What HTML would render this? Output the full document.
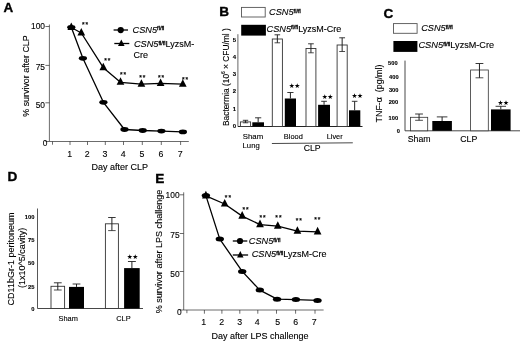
<!DOCTYPE html>
<html lang="en">
<head>
<meta charset="utf-8">
<title>Figure</title>
<style>
html,body{margin:0;padding:0;background:#fff;}
body{width:520px;height:344px;overflow:hidden;font-family:"Liberation Sans", sans-serif;}
svg{display:block;font-family:"Liberation Sans", sans-serif;filter:blur(0.45px);}
svg text{fill:#000;stroke:#000;stroke-width:0.12px;}
</style>
</head>
<body>
<svg width="520" height="344" viewBox="0 0 520 344">
<rect x="0" y="0" width="520" height="344" fill="#fff"/>
<text x="3.5" y="12.4" font-size="13.4" text-anchor="start" font-weight="bold" font-style="normal" style="stroke-width:0.35px">A</text>
<line x1="49.4" y1="24.5" x2="49.4" y2="141.5" stroke="#262626" stroke-width="0.68" />
<line x1="49.4" y1="141.5" x2="188.8" y2="141.5" stroke="#262626" stroke-width="0.68" />
<line x1="45.4" y1="26.5" x2="49.4" y2="26.5" stroke="#262626" stroke-width="0.68" />
<text x="45.0" y="28.6" font-size="8.4" text-anchor="end" font-weight="normal" font-style="normal" >100</text>
<line x1="45.4" y1="65.4" x2="49.4" y2="65.4" stroke="#262626" stroke-width="0.68" />
<text x="45.0" y="69.8" font-size="8.4" text-anchor="end" font-weight="normal" font-style="normal" >75</text>
<line x1="45.4" y1="102.8" x2="49.4" y2="102.8" stroke="#262626" stroke-width="0.68" />
<text x="45.0" y="108.1" font-size="8.4" text-anchor="end" font-weight="normal" font-style="normal" >50</text>
<line x1="45.4" y1="141.5" x2="49.4" y2="141.5" stroke="#262626" stroke-width="0.68" />
<text x="47.4" y="146.2" font-size="8.4" text-anchor="end" font-weight="normal" font-style="normal" >0</text>
<line x1="52.5" y1="141.5" x2="52.5" y2="144.7" stroke="#262626" stroke-width="0.68" />
<line x1="70" y1="141.5" x2="70" y2="145.0" stroke="#262626" stroke-width="0.68" />
<text x="69.7" y="156.6" font-size="8.8" text-anchor="middle" font-weight="normal" font-style="normal" >1</text>
<line x1="87.5" y1="141.5" x2="87.5" y2="145.0" stroke="#262626" stroke-width="0.68" />
<text x="87.2" y="156.6" font-size="8.8" text-anchor="middle" font-weight="normal" font-style="normal" >2</text>
<line x1="105.3" y1="141.5" x2="105.3" y2="145.0" stroke="#262626" stroke-width="0.68" />
<text x="105.0" y="156.6" font-size="8.8" text-anchor="middle" font-weight="normal" font-style="normal" >3</text>
<line x1="123.5" y1="141.5" x2="123.5" y2="145.0" stroke="#262626" stroke-width="0.68" />
<text x="123.2" y="156.6" font-size="8.8" text-anchor="middle" font-weight="normal" font-style="normal" >4</text>
<line x1="142.3" y1="141.5" x2="142.3" y2="145.0" stroke="#262626" stroke-width="0.68" />
<text x="142.0" y="156.6" font-size="8.8" text-anchor="middle" font-weight="normal" font-style="normal" >5</text>
<line x1="161.3" y1="141.5" x2="161.3" y2="145.0" stroke="#262626" stroke-width="0.68" />
<text x="161.0" y="156.6" font-size="8.8" text-anchor="middle" font-weight="normal" font-style="normal" >6</text>
<line x1="180.6" y1="141.5" x2="180.6" y2="145.0" stroke="#262626" stroke-width="0.68" />
<text x="180.29999999999998" y="156.6" font-size="8.8" text-anchor="middle" font-weight="normal" font-style="normal" >7</text>
<text x="28.6" y="76" font-size="8.9" text-anchor="middle" font-weight="normal" font-style="normal" transform="rotate(-90 28.6 76)" >% survivor after CLP</text>
<text x="119.7" y="170.3" font-size="9" text-anchor="middle" font-weight="normal" font-style="normal" >Day after CLP</text>
<polyline points="71.3,27.3 82.9,58.3 103.4,102.3 124.5,129.5 142.7,130.5 161.4,131.1 182.9,131.9" fill="none" stroke="#000" stroke-width="1.3" stroke-linejoin="round"/>
<polyline points="71.3,27.5 81.3,33.0 103.3,67.7 120.5,82.3 141.4,84.2 160.6,83.4 182.8,84.2" fill="none" stroke="#000" stroke-width="1.3" stroke-linejoin="round"/>
<ellipse cx="71.3" cy="27.3" rx="4.1" ry="2.4" fill="#000"/>
<ellipse cx="82.9" cy="58.3" rx="4.1" ry="2.4" fill="#000"/>
<ellipse cx="103.4" cy="102.3" rx="4.1" ry="2.4" fill="#000"/>
<ellipse cx="124.5" cy="129.5" rx="4.1" ry="2.4" fill="#000"/>
<ellipse cx="142.7" cy="130.5" rx="4.1" ry="2.4" fill="#000"/>
<ellipse cx="161.4" cy="131.1" rx="4.1" ry="2.4" fill="#000"/>
<ellipse cx="182.9" cy="131.9" rx="4.1" ry="2.4" fill="#000"/>
<polygon points="71.3,22.55 75.14999999999999,30.05 67.45,30.05" fill="#000"/>
<polygon points="81.3,28.05 85.14999999999999,35.55 77.45,35.55" fill="#000"/>
<polygon points="103.3,62.75 107.14999999999999,70.25 99.45,70.25" fill="#000"/>
<polygon points="120.5,77.35 124.35,84.85 116.65,84.85" fill="#000"/>
<polygon points="141.4,79.25 145.25,86.75 137.55,86.75" fill="#000"/>
<polygon points="160.6,78.45 164.45,85.95 156.75,85.95" fill="#000"/>
<polygon points="182.8,79.25 186.65,86.75 178.95000000000002,86.75" fill="#000"/>
<text x="85.5" y="27.17" font-size="6.6" text-anchor="middle" font-weight="bold" letter-spacing="1">**</text>
<text x="107.7" y="62.57" font-size="6.6" text-anchor="middle" font-weight="bold" letter-spacing="1">**</text>
<text x="123.6" y="76.57" font-size="6.6" text-anchor="middle" font-weight="bold" letter-spacing="1">**</text>
<text x="142.7" y="79.87" font-size="6.6" text-anchor="middle" font-weight="bold" letter-spacing="1">**</text>
<text x="161.5" y="79.87" font-size="6.6" text-anchor="middle" font-weight="bold" letter-spacing="1">**</text>
<text x="185.5" y="82.37" font-size="6.6" text-anchor="middle" font-weight="bold" letter-spacing="1">**</text>
<line x1="113.6" y1="30" x2="128" y2="30" stroke="#000" stroke-width="1.3" />
<ellipse cx="120.7" cy="30.1" rx="3.15" ry="3.1" fill="#000"/>
<text x="132.6" y="32.5" font-size="9"><tspan font-style="italic" font-size="9.2">CSN5</tspan><tspan font-size="5.6" dy="-2.2" stroke-width="0.3">fl/fl</tspan></text>
<line x1="114.3" y1="43.5" x2="129.3" y2="43.5" stroke="#000" stroke-width="1.3" />
<polygon points="121.3,39.5 124.6,45.900000000000006 118.0,45.900000000000006" fill="#000"/>
<text x="133.9" y="46.9" font-size="9"><tspan font-style="italic" font-size="9.2">CSN5</tspan><tspan font-size="5.6" dy="-2.2" stroke-width="0.3">fl/fl</tspan><tspan dy="2.2">LyzsM-</tspan></text>
<text x="133.5" y="57.5" font-size="9" text-anchor="start" font-weight="normal" font-style="normal" >Cre</text>
<text x="219.3" y="16.2" font-size="13.6" text-anchor="start" font-weight="bold" font-style="normal" style="stroke-width:0.35px">B</text>
<rect x="241.5" y="7.4" width="23.7" height="9.6" fill="#fff" stroke="#555" stroke-width="0.9"/>
<rect x="241.2" y="24.8" width="24.7" height="10.8" fill="#000"/>
<text x="269.1" y="15" font-size="9"><tspan font-style="italic" font-size="9.2">CSN5</tspan><tspan font-size="5.6" dy="-2.2" stroke-width="0.3">fl/fl</tspan></text>
<text x="266.5" y="31.5" font-size="9"><tspan font-style="italic" font-size="9.2">CSN5</tspan><tspan font-size="5.6" dy="-2.2" stroke-width="0.3">fl/fl</tspan><tspan dy="2.2">LyzsM-Cre</tspan></text>
<line x1="237.9" y1="34.2" x2="237.9" y2="126.5" stroke="#666" stroke-width="1.0" />
<line x1="237.9" y1="126.5" x2="362.5" y2="126.5" stroke="#222" stroke-width="1.1" />
<text x="234.3" y="127.75" font-size="6" text-anchor="middle" font-weight="bold" font-style="normal" >0</text>
<text x="234.3" y="110.51" font-size="6" text-anchor="middle" font-weight="bold" font-style="normal" >1</text>
<text x="234.3" y="93.27000000000001" font-size="6" text-anchor="middle" font-weight="bold" font-style="normal" >2</text>
<text x="234.3" y="76.03" font-size="6" text-anchor="middle" font-weight="bold" font-style="normal" >3</text>
<text x="234.3" y="58.79" font-size="6" text-anchor="middle" font-weight="bold" font-style="normal" >4</text>
<text x="234.3" y="41.550000000000004" font-size="6" text-anchor="middle" font-weight="bold" font-style="normal" >5</text>
<text x="228.6" y="77.1" font-size="8.4" text-anchor="middle" font-weight="normal" font-style="normal" transform="rotate(-90 228.6 77.1)" >Bactermia (10<tspan font-size="4.8" dy="-3.2">6</tspan><tspan dy="3.2"> × CFU/ml )</tspan></text>
<rect x="240.4" y="121.9" width="10.2" height="4.6" fill="#fff" stroke="#333" stroke-width="0.9"/>
<line x1="245.5" y1="120.3" x2="245.5" y2="122.8" stroke="#222" stroke-width="1.0" />
<line x1="242.8" y1="120.3" x2="248.2" y2="120.3" stroke="#222" stroke-width="0.9" />
<line x1="242.8" y1="122.8" x2="248.2" y2="122.8" stroke="#222" stroke-width="0.8" />
<rect x="252.3" y="122.3" width="11.7" height="4.2" fill="#000"/>
<line x1="258.15" y1="117.8" x2="258.15" y2="122.3" stroke="#222" stroke-width="1.0" />
<line x1="255.04999999999998" y1="117.8" x2="261.25" y2="117.8" stroke="#222" stroke-width="0.9" />
<rect x="272.3" y="39" width="10.1" height="87.5" fill="#fff" stroke="#333" stroke-width="0.9"/>
<line x1="277.35" y1="34.8" x2="277.35" y2="42.8" stroke="#222" stroke-width="1.0" />
<line x1="274.55" y1="34.8" x2="280.15000000000003" y2="34.8" stroke="#222" stroke-width="0.9" />
<line x1="274.55" y1="42.8" x2="280.15000000000003" y2="42.8" stroke="#222" stroke-width="0.8" />
<rect x="284.8" y="98.5" width="11.2" height="28.0" fill="#000"/>
<line x1="290.4" y1="92.5" x2="290.4" y2="98.5" stroke="#222" stroke-width="1.0" />
<line x1="287.29999999999995" y1="92.5" x2="293.5" y2="92.5" stroke="#222" stroke-width="0.9" />
<rect x="306" y="48.5" width="9.9" height="78.0" fill="#fff" stroke="#333" stroke-width="0.9"/>
<line x1="310.95" y1="43.8" x2="310.95" y2="52.8" stroke="#222" stroke-width="1.0" />
<line x1="308.09999999999997" y1="43.8" x2="313.8" y2="43.8" stroke="#222" stroke-width="0.9" />
<line x1="308.09999999999997" y1="52.8" x2="313.8" y2="52.8" stroke="#222" stroke-width="0.8" />
<rect x="318.1" y="104.8" width="11.9" height="21.7" fill="#000"/>
<line x1="324.05" y1="101.3" x2="324.05" y2="104.8" stroke="#222" stroke-width="1.0" />
<line x1="321.2" y1="101.3" x2="326.90000000000003" y2="101.3" stroke="#222" stroke-width="0.9" />
<rect x="337.1" y="45" width="10.1" height="81.5" fill="#fff" stroke="#333" stroke-width="0.9"/>
<line x1="342.15" y1="37.8" x2="342.15" y2="51.5" stroke="#222" stroke-width="1.0" />
<line x1="339.25" y1="37.8" x2="345.04999999999995" y2="37.8" stroke="#222" stroke-width="0.9" />
<line x1="339.25" y1="51.5" x2="345.04999999999995" y2="51.5" stroke="#222" stroke-width="0.8" />
<rect x="349" y="110.3" width="11.3" height="16.2" fill="#000"/>
<line x1="354.65" y1="101.3" x2="354.65" y2="110.3" stroke="#222" stroke-width="1.0" />
<line x1="351.84999999999997" y1="101.3" x2="357.45" y2="101.3" stroke="#222" stroke-width="0.9" />
<text x="294.2" y="88.21" font-size="6.7" text-anchor="middle" letter-spacing="-0.5" style="stroke:none" font-family="'DejaVu Sans', 'Liberation Sans', sans-serif">★★</text>
<text x="327.3" y="98.81" font-size="6.7" text-anchor="middle" letter-spacing="-0.5" style="stroke:none" font-family="'DejaVu Sans', 'Liberation Sans', sans-serif">★★</text>
<text x="356.9" y="98.41" font-size="6.7" text-anchor="middle" letter-spacing="-0.5" style="stroke:none" font-family="'DejaVu Sans', 'Liberation Sans', sans-serif">★★</text>
<text x="242.8" y="139" font-size="7.8" text-anchor="start" font-weight="normal" font-style="normal" >Sham</text>
<text x="242.6" y="147.5" font-size="7.7" text-anchor="start" font-weight="normal" font-style="normal" >Lung</text>
<text x="293.3" y="138.5" font-size="7.4" text-anchor="middle" font-weight="normal" font-style="normal" >Blood</text>
<text x="334.7" y="138.5" font-size="7.4" text-anchor="middle" font-weight="normal" font-style="normal" >Liver</text>
<line x1="271.9" y1="143.5" x2="352.8" y2="142.8" stroke="#333" stroke-width="0.9" />
<text x="312.2" y="151" font-size="8.7" text-anchor="middle" font-weight="normal" font-style="normal" >CLP</text>
<text x="383.4" y="18.3" font-size="13.6" text-anchor="start" font-weight="bold" font-style="normal" style="stroke-width:0.35px">C</text>
<rect x="393.5" y="23.6" width="23.6" height="9.7" fill="#fff" stroke="#555" stroke-width="0.9"/>
<rect x="393.4" y="41" width="24" height="10.9" fill="#000"/>
<text x="421.2" y="30.8" font-size="9"><tspan font-style="italic" font-size="9.2">CSN5</tspan><tspan font-size="5.6" dy="-2.2" stroke-width="0.3">fl/fl</tspan></text>
<text x="418.4" y="48.1" font-size="9.1"><tspan font-style="italic" font-size="9.3">CSN5</tspan><tspan font-size="5.6" dy="-2.2" stroke-width="0.3">fl/fl</tspan><tspan dy="2.2">LyzsM-Cre</tspan></text>
<line x1="405" y1="60.6" x2="405" y2="130.8" stroke="#333" stroke-width="0.9" />
<line x1="405" y1="130.8" x2="520" y2="130.8" stroke="#333" stroke-width="0.9" />
<text x="397.6" y="64.75" font-size="5.7" text-anchor="end" font-weight="bold" font-style="normal" >500</text>
<text x="398.6" y="78.95" font-size="5.7" text-anchor="end" font-weight="bold" font-style="normal" >400</text>
<text x="398.4" y="91.75" font-size="5.7" text-anchor="end" font-weight="bold" font-style="normal" >300</text>
<text x="398.2" y="104.25" font-size="5.7" text-anchor="end" font-weight="bold" font-style="normal" >200</text>
<text x="398.1" y="119.55" font-size="5.7" text-anchor="end" font-weight="bold" font-style="normal" >100</text>
<text x="400" y="132.65" font-size="5.7" text-anchor="end" font-weight="bold" font-style="normal" >0</text>
<text x="382.4" y="93.5" font-size="8.9" text-anchor="middle" font-weight="normal" font-style="normal" transform="rotate(-90 382.4 93.5)" >TNF-α&#160;&#160;(pg/ml)</text>
<rect x="410.4" y="117.3" width="17.3" height="13.5" fill="#fff" stroke="#333" stroke-width="0.8"/>
<line x1="419.04999999999995" y1="114" x2="419.04999999999995" y2="120.3" stroke="#222" stroke-width="1.0" />
<line x1="415.15" y1="114" x2="422.94999999999993" y2="114" stroke="#222" stroke-width="0.9" />
<line x1="415.15" y1="120.3" x2="422.94999999999993" y2="120.3" stroke="#222" stroke-width="0.8" />
<rect x="432.3" y="121" width="19.6" height="9.8" fill="#000"/>
<line x1="442.1" y1="116.9" x2="442.1" y2="121" stroke="#222" stroke-width="1.0" />
<line x1="436.8" y1="116.9" x2="447.40000000000003" y2="116.9" stroke="#222" stroke-width="0.9" />
<rect x="470.6" y="70" width="17.7" height="60.8" fill="#fff" stroke="#333" stroke-width="0.8"/>
<line x1="479.45000000000005" y1="63.5" x2="479.45000000000005" y2="77.8" stroke="#222" stroke-width="1.0" />
<line x1="475.55000000000007" y1="63.5" x2="483.35" y2="63.5" stroke="#222" stroke-width="0.9" />
<line x1="475.55000000000007" y1="77.8" x2="483.35" y2="77.8" stroke="#222" stroke-width="0.8" />
<rect x="491" y="109.4" width="19.6" height="21.4" fill="#000"/>
<line x1="500.8" y1="106.3" x2="500.8" y2="109.4" stroke="#222" stroke-width="1.0" />
<line x1="495.55" y1="106.3" x2="506.05" y2="106.3" stroke="#222" stroke-width="0.9" />
<text x="503.1" y="105.41" font-size="6.7" text-anchor="middle" letter-spacing="-0.5" style="stroke:none" font-family="'DejaVu Sans', 'Liberation Sans', sans-serif">★★</text>
<text x="419.2" y="142.3" font-size="8.75" text-anchor="middle" font-weight="normal" font-style="normal" >Sham</text>
<text x="468.8" y="142.3" font-size="8.75" text-anchor="middle" font-weight="normal" font-style="normal" >CLP</text>
<text x="7.6" y="180.9" font-size="13.6" text-anchor="start" font-weight="bold" font-style="normal" style="stroke-width:0.35px">D</text>
<line x1="37.5" y1="208.5" x2="37.5" y2="308.5" stroke="#444" stroke-width="0.9" />
<line x1="37.5" y1="308.5" x2="143" y2="308.5" stroke="#333" stroke-width="0.9" />
<text x="34.5" y="219.0" font-size="5.8" text-anchor="end" font-weight="bold" font-style="normal" >100</text>
<text x="34.5" y="241.79999999999998" font-size="5.8" text-anchor="end" font-weight="bold" font-style="normal" >75</text>
<text x="34.5" y="264.8" font-size="5.8" text-anchor="end" font-weight="bold" font-style="normal" >50</text>
<text x="34.5" y="288.5" font-size="5.8" text-anchor="end" font-weight="bold" font-style="normal" >25</text>
<text x="34.5" y="311.1" font-size="5.8" text-anchor="end" font-weight="bold" font-style="normal" >0</text>
<text x="13.8" y="259" font-size="9" text-anchor="middle" font-weight="normal" font-style="normal" transform="rotate(-90 13.8 259)" >CD11bGr-1 peritoneum</text>
<text x="24.7" y="257.8" font-size="9" text-anchor="middle" font-weight="normal" font-style="normal" transform="rotate(-90 24.7 257.8)" >(1x10^5/cavity)</text>
<rect x="51" y="286.3" width="13.6" height="22.2" fill="#fff" stroke="#333" stroke-width="0.9"/>
<line x1="57.8" y1="282.8" x2="57.8" y2="290" stroke="#222" stroke-width="1.0" />
<line x1="53.9" y1="282.8" x2="61.699999999999996" y2="282.8" stroke="#222" stroke-width="0.9" />
<line x1="53.9" y1="290" x2="61.699999999999996" y2="290" stroke="#222" stroke-width="0.8" />
<rect x="69" y="286.9" width="15" height="21.6" fill="#000"/>
<line x1="76.5" y1="284" x2="76.5" y2="286.9" stroke="#222" stroke-width="1.0" />
<line x1="72.6" y1="284" x2="80.4" y2="284" stroke="#222" stroke-width="0.9" />
<rect x="105.4" y="223.8" width="13.0" height="84.7" fill="#fff" stroke="#333" stroke-width="0.9"/>
<line x1="111.9" y1="217.5" x2="111.9" y2="230.6" stroke="#222" stroke-width="1.0" />
<line x1="108.15" y1="217.5" x2="115.65" y2="217.5" stroke="#222" stroke-width="0.9" />
<line x1="108.15" y1="230.6" x2="115.65" y2="230.6" stroke="#222" stroke-width="0.8" />
<rect x="124.1" y="268.1" width="15.6" height="40.4" fill="#000"/>
<line x1="131.89999999999998" y1="261.5" x2="131.89999999999998" y2="268.1" stroke="#222" stroke-width="1.0" />
<line x1="127.94999999999997" y1="261.5" x2="135.84999999999997" y2="261.5" stroke="#222" stroke-width="0.9" />
<text x="132.3" y="259.31" font-size="6.7" text-anchor="middle" letter-spacing="-0.5" style="stroke:none" font-family="'DejaVu Sans', 'Liberation Sans', sans-serif">★★</text>
<text x="68.2" y="320.6" font-size="7.4" text-anchor="middle" font-weight="normal" font-style="normal" >Sham</text>
<text x="123.4" y="320.6" font-size="7.4" text-anchor="middle" font-weight="normal" font-style="normal" >CLP</text>
<text x="155.3" y="183.0" font-size="13.6" text-anchor="start" font-weight="bold" font-style="normal" style="stroke-width:0.35px">E</text>
<line x1="183.7" y1="192.3" x2="183.7" y2="310" stroke="#262626" stroke-width="0.68" />
<line x1="183.7" y1="310" x2="323.6" y2="310" stroke="#262626" stroke-width="0.68" />
<line x1="179.7" y1="194.8" x2="183.7" y2="194.8" stroke="#262626" stroke-width="0.68" />
<text x="179.6" y="197.6" font-size="8.4" text-anchor="end" font-weight="normal" font-style="normal" >100</text>
<line x1="179.7" y1="233.5" x2="183.7" y2="233.5" stroke="#262626" stroke-width="0.68" />
<text x="179.6" y="238.2" font-size="8.4" text-anchor="end" font-weight="normal" font-style="normal" >75</text>
<line x1="179.7" y1="271.5" x2="183.7" y2="271.5" stroke="#262626" stroke-width="0.68" />
<text x="179.6" y="276.9" font-size="8.4" text-anchor="end" font-weight="normal" font-style="normal" >50</text>
<line x1="179.7" y1="310" x2="183.7" y2="310" stroke="#262626" stroke-width="0.68" />
<text x="181.7" y="315" font-size="8.4" text-anchor="end" font-weight="normal" font-style="normal" >0</text>
<line x1="186.9" y1="310" x2="186.9" y2="313.2" stroke="#262626" stroke-width="0.68" />
<line x1="204.4" y1="310" x2="204.4" y2="313.7" stroke="#262626" stroke-width="0.68" />
<text x="203.8" y="324.9" font-size="8.8" text-anchor="middle" font-weight="normal" font-style="normal" >1</text>
<line x1="221.9" y1="310" x2="221.9" y2="313.7" stroke="#262626" stroke-width="0.68" />
<text x="221.70000000000002" y="324.9" font-size="8.8" text-anchor="middle" font-weight="normal" font-style="normal" >2</text>
<line x1="239.8" y1="310" x2="239.8" y2="313.7" stroke="#262626" stroke-width="0.68" />
<text x="239.60000000000002" y="324.9" font-size="8.8" text-anchor="middle" font-weight="normal" font-style="normal" >3</text>
<line x1="257.8" y1="310" x2="257.8" y2="313.7" stroke="#262626" stroke-width="0.68" />
<text x="257.3" y="324.9" font-size="8.8" text-anchor="middle" font-weight="normal" font-style="normal" >4</text>
<line x1="276.5" y1="310" x2="276.5" y2="313.7" stroke="#262626" stroke-width="0.68" />
<text x="277.6" y="324.9" font-size="8.8" text-anchor="middle" font-weight="normal" font-style="normal" >5</text>
<line x1="295.6" y1="310" x2="295.6" y2="313.7" stroke="#262626" stroke-width="0.68" />
<text x="295.8" y="324.9" font-size="8.8" text-anchor="middle" font-weight="normal" font-style="normal" >6</text>
<line x1="315" y1="310" x2="315" y2="313.7" stroke="#262626" stroke-width="0.68" />
<text x="314.1" y="324.9" font-size="8.8" text-anchor="middle" font-weight="normal" font-style="normal" >7</text>
<text x="162.3" y="251.5" font-size="9.05" text-anchor="middle" font-weight="normal" font-style="normal" transform="rotate(-90 162.3 251.5)" >% survivor after LPS challenge</text>
<text x="260" y="339.1" font-size="9" text-anchor="middle" font-weight="normal" font-style="normal" >Day after LPS challenge</text>
<polyline points="205.9,195.6 219.8,239.1 242.2,271.4 259.8,290.1 277.1,299.2 295.9,299.6 317.5,300.4" fill="none" stroke="#000" stroke-width="1.3" stroke-linejoin="round"/>
<polyline points="205.9,195.79999999999998 224.7,204.0 242.2,216.1 260,224.6 277.8,226.2 297.4,231.2 317.6,231.79999999999998" fill="none" stroke="#000" stroke-width="1.3" stroke-linejoin="round"/>
<ellipse cx="205.9" cy="195.6" rx="4.2" ry="2.5" fill="#000"/>
<ellipse cx="219.8" cy="239.1" rx="4.2" ry="2.5" fill="#000"/>
<ellipse cx="242.2" cy="271.4" rx="4.2" ry="2.5" fill="#000"/>
<ellipse cx="259.8" cy="290.1" rx="4.2" ry="2.5" fill="#000"/>
<ellipse cx="277.1" cy="299.2" rx="4.2" ry="2.5" fill="#000"/>
<ellipse cx="295.9" cy="299.6" rx="4.2" ry="2.5" fill="#000"/>
<ellipse cx="317.5" cy="300.4" rx="4.2" ry="2.5" fill="#000"/>
<polygon points="205.9,190.79999999999998 209.75,198.4 202.05,198.4" fill="#000"/>
<polygon points="224.7,199.0 228.54999999999998,206.60000000000002 220.85,206.60000000000002" fill="#000"/>
<polygon points="242.2,211.1 246.04999999999998,218.70000000000002 238.35,218.70000000000002" fill="#000"/>
<polygon points="260,219.6 263.85,227.20000000000002 256.15,227.20000000000002" fill="#000"/>
<polygon points="277.8,221.2 281.65000000000003,228.8 273.95,228.8" fill="#000"/>
<polygon points="297.4,226.2 301.25,233.8 293.54999999999995,233.8" fill="#000"/>
<polygon points="317.6,226.79999999999998 321.45000000000005,234.4 313.75,234.4" fill="#000"/>
<text x="228.4" y="199.67" font-size="6.6" text-anchor="middle" font-weight="bold" letter-spacing="1">**</text>
<text x="246.1" y="212.37" font-size="6.6" text-anchor="middle" font-weight="bold" letter-spacing="1">**</text>
<text x="263.0" y="220.07" font-size="6.6" text-anchor="middle" font-weight="bold" letter-spacing="1">**</text>
<text x="278.9" y="220.07" font-size="6.6" text-anchor="middle" font-weight="bold" letter-spacing="1">**</text>
<text x="299.3" y="223.07" font-size="6.6" text-anchor="middle" font-weight="bold" letter-spacing="1">**</text>
<text x="317.8" y="221.97" font-size="6.6" text-anchor="middle" font-weight="bold" letter-spacing="1">**</text>
<line x1="232.8" y1="241" x2="247.3" y2="241" stroke="#000" stroke-width="1.3" />
<ellipse cx="240" cy="241" rx="3.15" ry="3.1" fill="#000"/>
<text x="248.8" y="243.8" font-size="9"><tspan font-style="italic" font-size="9.2">CSN5</tspan><tspan font-size="5.6" dy="-2.2" stroke-width="0.3">fl/fl</tspan></text>
<line x1="232.8" y1="255" x2="248.1" y2="255" stroke="#000" stroke-width="1.3" />
<polygon points="240.3,251.0 243.5,257.4 237.10000000000002,257.4" fill="#000"/>
<text x="251.7" y="256.9" font-size="9"><tspan font-style="italic" font-size="9.2">CSN5</tspan><tspan font-size="5.6" dy="-2.2" stroke-width="0.3">fl/fl</tspan><tspan dy="2.2">LyzsM-Cre</tspan></text>
</svg>
</body>
</html>
